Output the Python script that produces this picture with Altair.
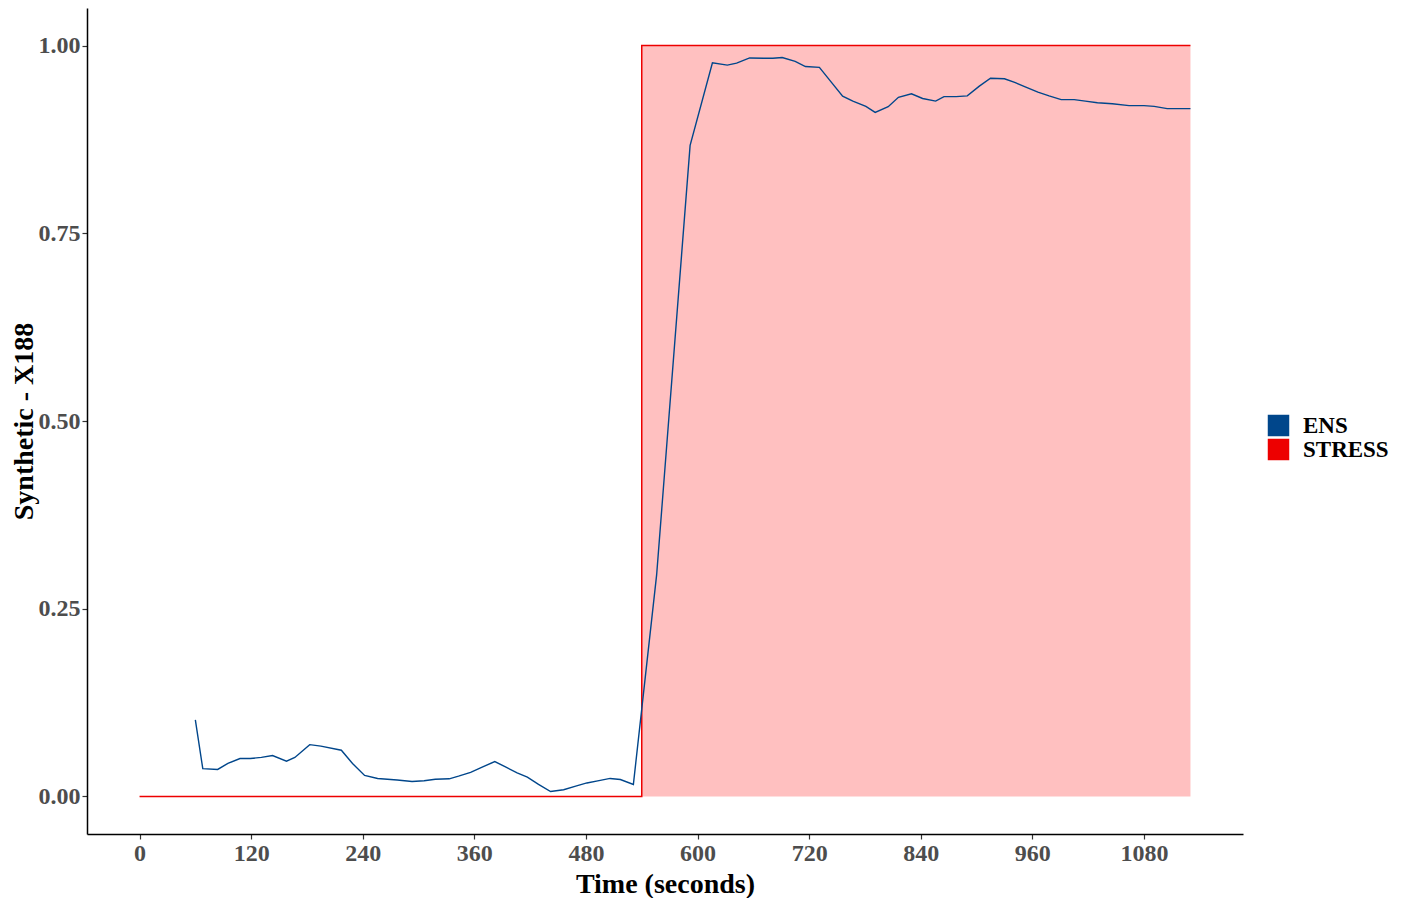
import altair as alt
import pandas as pd

# ENS series (time in seconds, value)
ENS_T = [60, 68, 84, 95, 108, 119, 131, 143, 158, 167, 183, 195, 217, 229, 242,
         256, 277, 293, 306, 318, 333, 343, 356, 369, 382, 394, 406, 417, 429,
         442, 456, 469, 481, 494, 506, 517, 531, 556, 592, 616, 632, 642, 656,
         671, 681, 691, 705, 716, 731, 744, 756, 767, 781, 791, 805, 816, 830,
         842, 856, 865, 878, 890, 903, 915, 930, 941, 953, 966, 978, 991, 1005,
         1017, 1030, 1046, 1064, 1080, 1091, 1105, 1117, 1130]
ENS_Y = [0.102, 0.037, 0.036, 0.044, 0.0505, 0.0505, 0.052, 0.0545, 0.047, 0.052,
         0.069, 0.067, 0.0616, 0.044, 0.028, 0.024, 0.022, 0.020, 0.021, 0.023,
         0.0235, 0.027, 0.032, 0.0395, 0.0465, 0.039, 0.0315, 0.0257, 0.016,
         0.0066, 0.0089, 0.0137, 0.018, 0.021, 0.024, 0.0226, 0.016, 0.295,
         0.867, 0.977, 0.974, 0.9765, 0.9835, 0.983, 0.983, 0.984, 0.979, 0.972,
         0.971, 0.951, 0.9326, 0.926, 0.919, 0.911, 0.9185, 0.931, 0.9357,
         0.9295, 0.926, 0.932, 0.932, 0.933, 0.946, 0.9565, 0.9557, 0.951,
         0.9446, 0.938, 0.933, 0.928, 0.928, 0.926, 0.9238, 0.9224, 0.920,
         0.920, 0.919, 0.916, 0.916, 0.916]

# STRESS step series
STRESS_T = [0, 540, 540, 1130]
STRESS_Y = [0, 0, 1, 1]

SERIES = ["ENS", "STRESS"]
SERIES_COLORS = ["#00468B", "#ED0000"]

X_TICKS = [0, 120, 240, 360, 480, 600, 720, 840, 960, 1080]
Y_TICKS = [0, 0.25, 0.5, 0.75, 1.0]

ens = pd.DataFrame({"t": ENS_T, "v": ENS_Y})
stress = pd.DataFrame({"t": STRESS_T, "v": STRESS_Y})
leg = pd.DataFrame({"t": [0, 0], "v": [0, 0], "series": SERIES})

FONT = "Liberation Serif"

xscale = alt.Scale(domain=[-56.5, 1186.5], nice=False, zero=False)
yscale = alt.Scale(domain=[-0.05, 1.05], nice=False, zero=False)

common = dict(grid=False, labelFontSize=24, labelFont=FONT, labelFontWeight="bold",
              labelColor="#4D4D4D", titleFont=FONT, titleFontSize=28,
              titleFontWeight="bold", titleColor="black", tickSize=5,
              labelPadding=2, domainColor="black", domainWidth=1.5,
              tickColor="#333333", tickWidth=1.2, labelFlush=False)

xaxis = alt.Axis(values=X_TICKS, format="d", title="Time (seconds)",
                 titlePadding=5, **common)
yaxis = alt.Axis(values=Y_TICKS, format=".2f", title="Synthetic - X188",
                 titleX=-49, **common)

area = alt.Chart(stress).mark_area(color="#FFC0C0", opacity=1).encode(
    x=alt.X("t:Q", scale=xscale, axis=xaxis),
    y=alt.Y("v:Q", scale=yscale, axis=yaxis),
    y2=alt.datum(0),
)

stress_line = alt.Chart(stress).mark_line(color="#ED0000", strokeWidth=1.5).encode(
    x=alt.X("t:Q", scale=xscale),
    y=alt.Y("v:Q", scale=yscale),
)

ens_line = alt.Chart(ens).mark_line(color="#00468B", strokeWidth=1.4).encode(
    x=alt.X("t:Q", scale=xscale),
    y=alt.Y("v:Q", scale=yscale),
)

legend_layer = alt.Chart(leg).mark_square(opacity=0, size=10).encode(
    x=alt.X("t:Q", scale=xscale),
    y=alt.Y("v:Q", scale=yscale),
    color=alt.Color("series:N",
                    scale=alt.Scale(domain=SERIES, range=SERIES_COLORS),
                    legend=alt.Legend(title=None, orient="none", legendX=1180,
                                      legendY=406, symbolType="square",
                                      symbolSize=462, symbolOpacity=1,
                                      symbolStrokeWidth=0, labelFont=FONT,
                                      labelFontSize=23, labelFontWeight="bold",
                                      labelColor="black", labelOffset=13,
                                      rowPadding=0, padding=0)),
)

chart = alt.layer(area, stress_line, ens_line, legend_layer).properties(
    width=1156, height=826,
    autosize=alt.AutoSizeParams(type="none"),
    padding={"left": 79, "top": 0, "right": 150, "bottom": 64},
    background="white",
).configure_view(stroke=None)

chart.save("out.html", embed_options={"renderer": "svg", "actions": False})
